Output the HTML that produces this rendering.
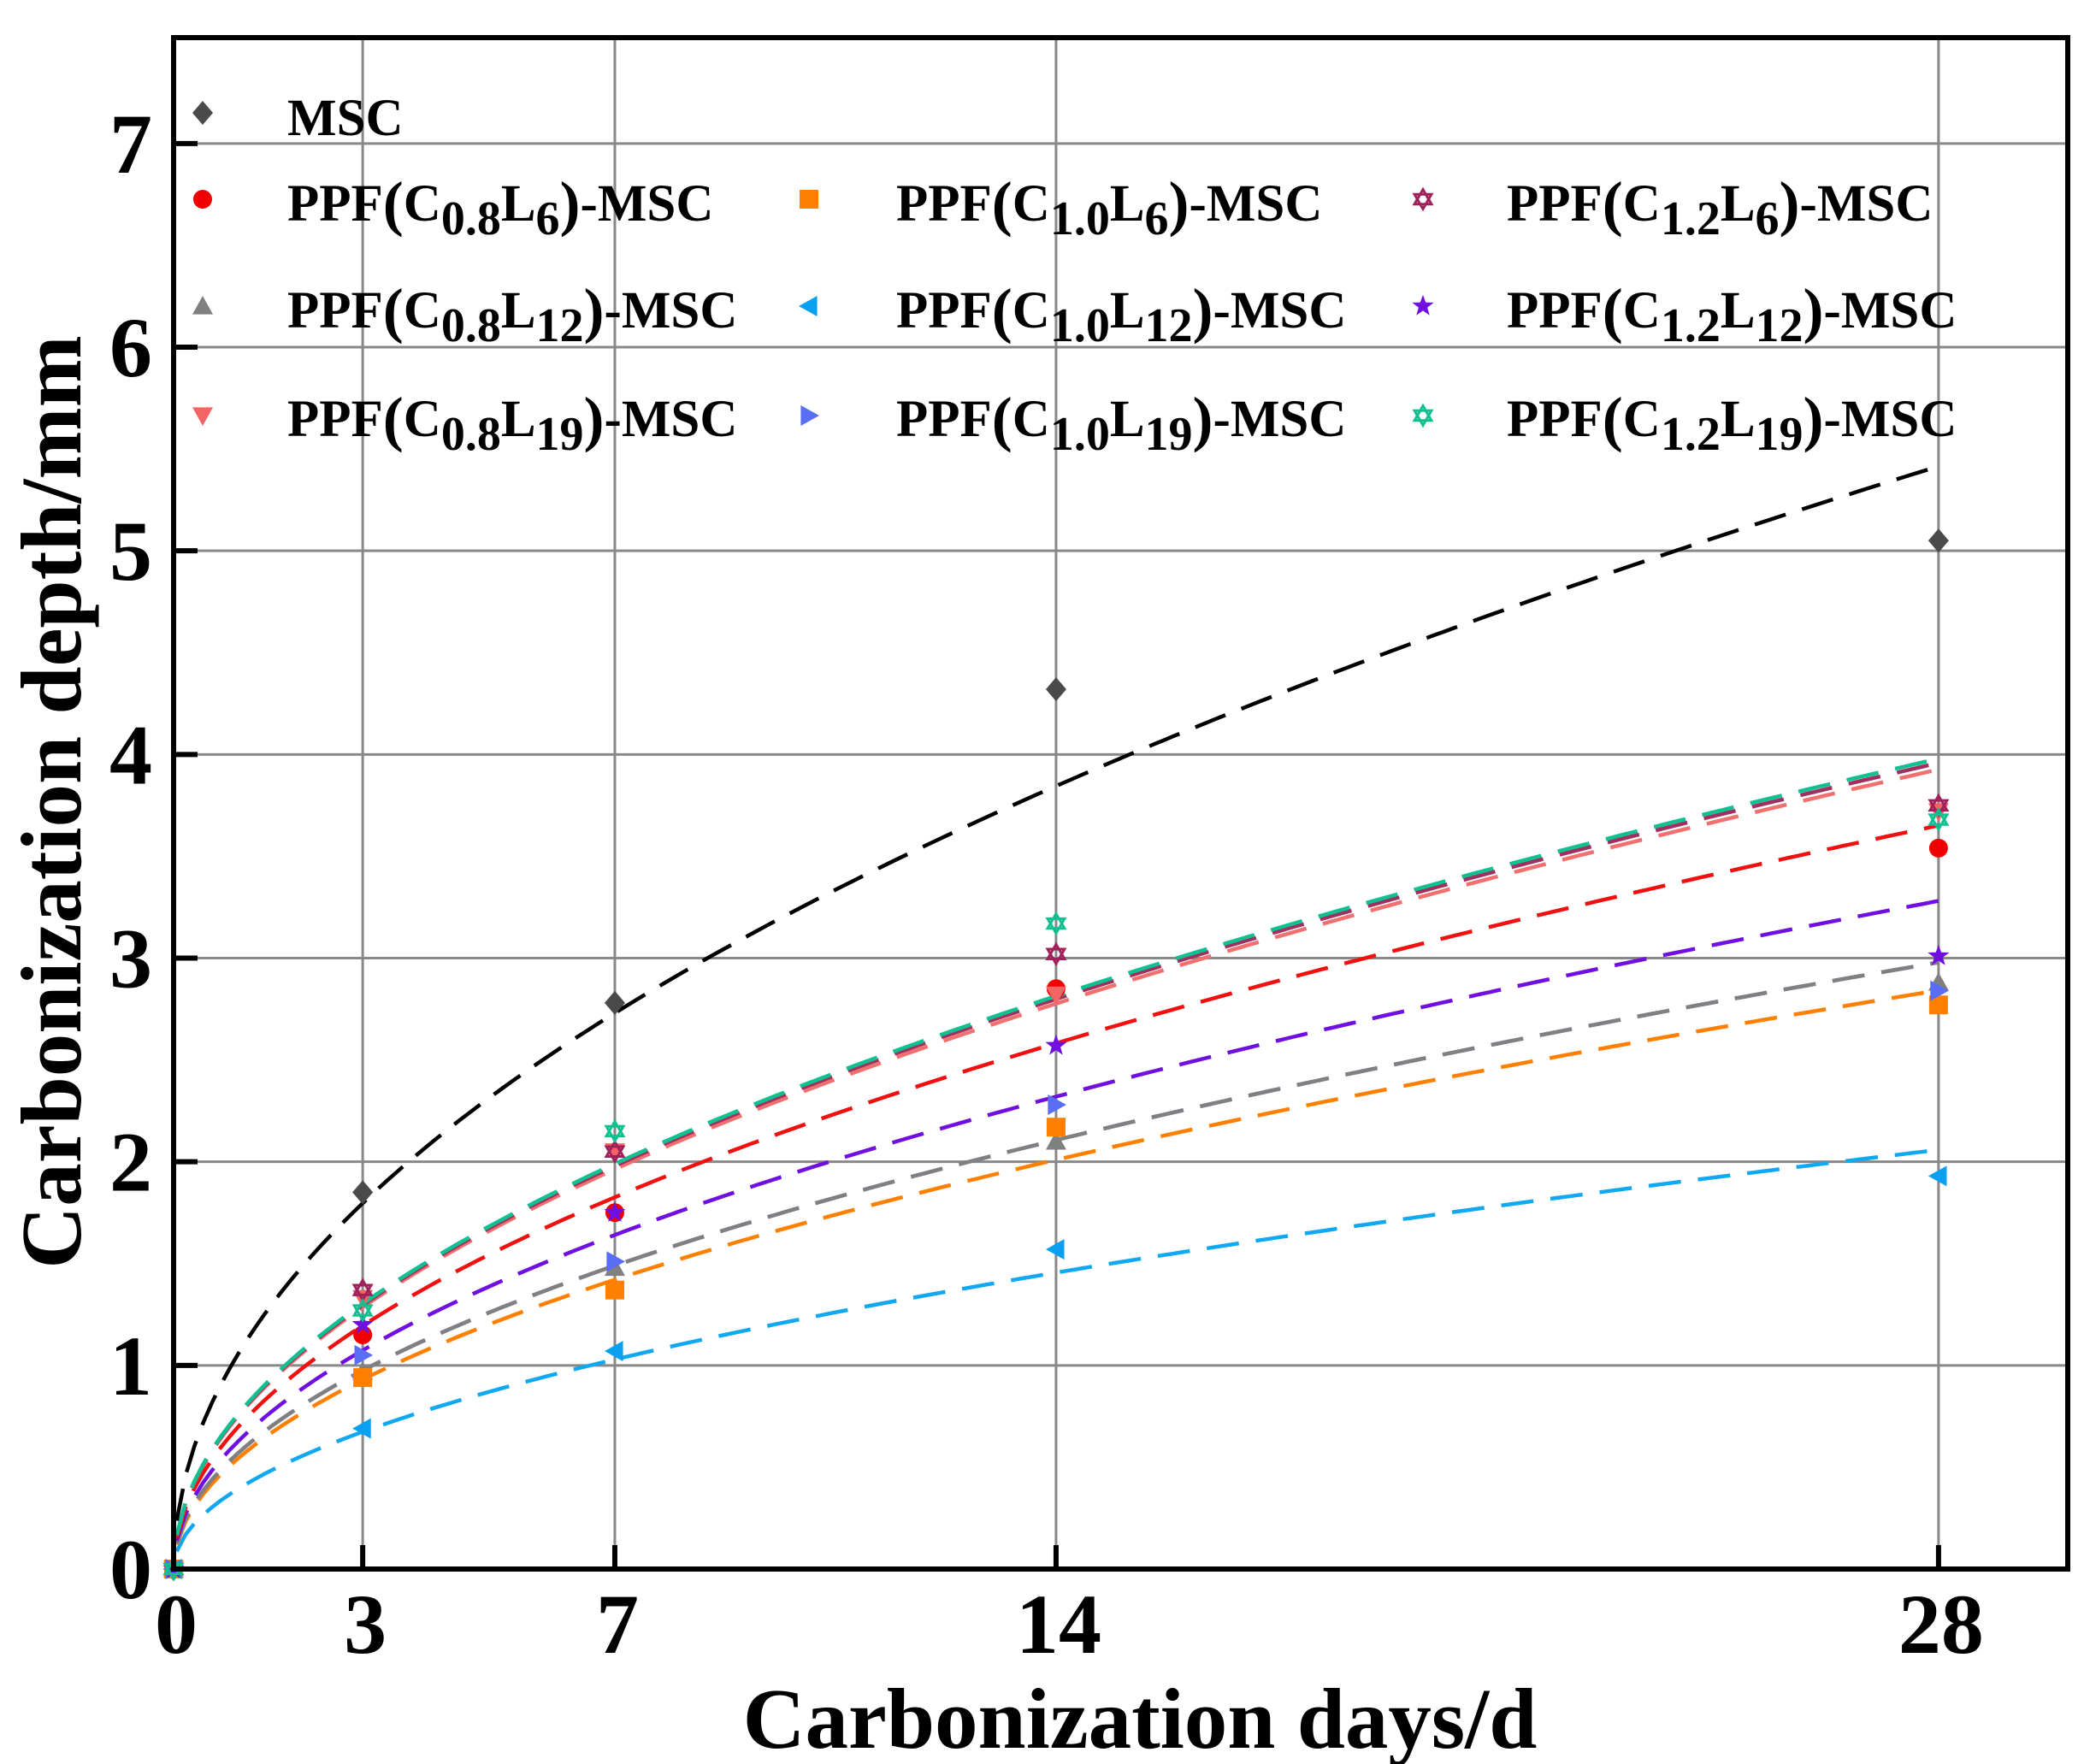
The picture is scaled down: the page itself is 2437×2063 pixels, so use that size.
<!DOCTYPE html>
<html><head><meta charset="utf-8"><style>
html,body{margin:0;padding:0;background:#fff;}
svg{display:block;font-family:"Liberation Serif",serif;font-weight:bold;}
</style></head><body>
<svg id="chart" width="2437" height="2063" viewBox="0 0 2437 2063" xmlns="http://www.w3.org/2000/svg"></svg>
<script>
const days = [0, 3, 7, 14, 28];
const xTicks = [0, 3, 7, 14, 28];
const yTicks = [0, 1, 2, 3, 4, 5, 6, 7];
const seriesNames = ["MSC","C0.8L6","C0.8L12","C0.8L19","C1.0L6","C1.0L12","C1.0L19","C1.2L6","C1.2L12","C1.2L19"];
const valsMSC     = [0, 1.85, 2.78, 4.32, 5.05];
const valsC08L6   = [0, 1.15, 1.75, 2.85, 3.54];
const valsC08L12  = [0, 0.97, 1.48, 2.10, 2.88];
const valsC08L19  = [0, 1.33, 2.05, 2.82, 3.72];
const valsC10L6   = [0, 0.94, 1.37, 2.17, 2.77];
const valsC10L12  = [0, 0.69, 1.07, 1.57, 1.93];
const valsC10L19  = [0, 1.05, 1.51, 2.28, 2.84];
const valsC12L6   = [0, 1.37, 2.05, 3.02, 3.75];
const valsC12L12  = [0, 1.20, 1.75, 2.57, 3.01];
const valsC12L19  = [0, 1.27, 2.15, 3.17, 3.68];
const fitA = [1.044, 0.69, 0.563, 0.742, 0.537, 0.389, 0.563, 0.748, 0.62, 0.752];
const fitB = [0.494, 0.5, 0.5, 0.5, 0.5, 0.5, 0.5, 0.5, 0.5, 0.5];

const allVals=[valsMSC,valsC08L6,valsC08L12,valsC08L19,valsC10L6,valsC10L12,valsC10L19,valsC12L6,valsC12L12,valsC12L19];
const colors=["#4a4a4a","#f00000","#808080","#f46464","#ff8000","#0aa0f0","#5a6ef5","#a0205a","#7010e0","#10c090"];
const lineColors=["#000","#f01010","#808080","#f07070","#ff8000","#10a8f0","#5a6ef5","#a03060","#7010e0","#10c090"];
const shapes=["diamond","circle","tri-up","tri-down","square","tri-left","tri-right","star6","star5","star6o"];
const L=203,R=2418,T=44,B=1835;
const X0=0,X1=30.05,Y0=0,Y1=7.52;
const sx=v=>L+(v-X0)/(X1-X0)*(R-L);
const sy=v=>B-(v-Y0)/(Y1-Y0)*(B-T);
const svg=document.getElementById('chart');
const NS="http://www.w3.org/2000/svg";
function mk(tag,attrs,parent){const e=document.createElementNS(NS,tag);for(const k in attrs)e.setAttribute(k,attrs[k]);(parent||svg).appendChild(e);return e;}

const grid=mk('g',{});


xTicks.forEach(t=>{if(t===0)return;const l=mk('line',{x1:sx(t),x2:sx(t),y1:T,y2:B,stroke:'#888','stroke-width':3},grid);

});
yTicks.forEach(t=>{if(t===0)return;const l=mk('line',{x1:L,x2:R,y1:sy(t),y2:sy(t),stroke:'#888','stroke-width':3},grid);

});

const fits=mk('g',{});


const order=[6,5,4,2,8,1,3,7,9,0];
order.forEach(i=>{const a=fitA[i];let d='';for(let k=0;k<=200;k++){const t=0.05+k*(28-0.05)/200;const v=a*Math.pow(t,fitB[i]);d+=(k?'L':'M')+sx(t).toFixed(1)+','+sy(v).toFixed(1);}
const p=mk('path',{d:d,fill:'none',stroke:lineColors[i],'stroke-width':4.5,'stroke-dasharray':'38,20'},fits);

});

function marker(shape,cx,cy,col,parent){const s=12;let e;
if(shape==='diamond')e=mk('path',{d:`M${cx},${cy-s-2}L${cx+s},${cy}L${cx},${cy+s+2}L${cx-s},${cy}Z`,fill:col},parent);
else if(shape==='circle')e=mk('circle',{cx,cy,r:s-1,fill:col},parent);
else if(shape==='square')e=mk('rect',{x:cx-s+1,y:cy-s+1,width:2*s-2,height:2*s-2,fill:col},parent);
else if(shape==='tri-up')e=mk('path',{d:`M${cx},${cy-s}L${cx+s},${cy+s*0.8}L${cx-s},${cy+s*0.8}Z`,fill:col},parent);
else if(shape==='tri-down')e=mk('path',{d:`M${cx},${cy+s}L${cx+s},${cy-s*0.8}L${cx-s},${cy-s*0.8}Z`,fill:col},parent);
else if(shape==='tri-left')e=mk('path',{d:`M${cx-s},${cy}L${cx+s*0.8},${cy-s}L${cx+s*0.8},${cy+s}Z`,fill:col},parent);
else if(shape==='tri-right')e=mk('path',{d:`M${cx+s},${cy}L${cx-s*0.8},${cy-s}L${cx-s*0.8},${cy+s}Z`,fill:col},parent);
else if(shape==='star5'){let d='';for(let k=0;k<10;k++){const r=k%2?s*0.45:s*1.1;const a=-Math.PI/2+k*Math.PI/5;d+=(k?'L':'M')+(cx+r*Math.cos(a)).toFixed(1)+','+(cy+r*Math.sin(a)).toFixed(1);}e=mk('path',{d:d+'Z',fill:col},parent);}
else {const h=s*0.95;e=mk('path',{d:`M${cx},${cy-h}L${cx+h*0.87},${cy+h*0.5}L${cx-h*0.87},${cy+h*0.5}ZM${cx},${cy+h}L${cx+h*0.87},${cy-h*0.5}L${cx-h*0.87},${cy-h*0.5}Z`,fill:'none',stroke:col,'stroke-width':3},parent);}
return e;}

const pts=mk('g',{});


allVals.forEach((vals,i)=>{vals.forEach((v,j)=>{const m=marker(shapes[i],sx(days[j]),sy(v),colors[i],pts);

});});

const fr=mk('rect',{x:L,y:T,width:R-L,height:B-T,fill:'none',stroke:'#000','stroke-width':6});


xTicks.forEach(t=>{const l=mk('line',{x1:sx(t),x2:sx(t),y1:B,y2:B-28,stroke:'#000','stroke-width':6});


const tx=mk('text',{x:sx(t)+3,y:1933,'text-anchor':'middle','font-size':100});tx.textContent=t;

});
yTicks.forEach(t=>{const l=mk('line',{x1:L,x2:L+28,y1:sy(t),y2:sy(t),stroke:'#000','stroke-width':6});


const tx=mk('text',{x:178,y:sy(t)+34,'text-anchor':'end','font-size':100});tx.textContent=t;

});
</script>
<svg style="position:absolute;left:0;top:0" width="2437" height="2063" font-family="Liberation Serif, serif" font-weight="bold">
<text x="1333" y="2044" text-anchor="middle" font-size="101">Carbonization days/d</text>
<text transform="translate(94,938) rotate(-90)" text-anchor="middle" font-size="101">Carbonization depth/mm</text>
<g font-size="61">
<text x="336" y="158">MSC</text>
<text x="336" y="258">PPF<tspan font-size="72" dy="4">(</tspan><tspan dy="-4">C</tspan><tspan dy="16" font-size="56">0.8</tspan><tspan dy="-16">L</tspan><tspan dy="16" font-size="56">6</tspan><tspan dy="-12" font-size="72">)</tspan><tspan dy="-4">-MSC</tspan></text>
<text x="336" y="383">PPF<tspan font-size="72" dy="4">(</tspan><tspan dy="-4">C</tspan><tspan dy="16" font-size="56">0.8</tspan><tspan dy="-16">L</tspan><tspan dy="16" font-size="56">12</tspan><tspan dy="-12" font-size="72">)</tspan><tspan dy="-4">-MSC</tspan></text>
<text x="336" y="510">PPF<tspan font-size="72" dy="4">(</tspan><tspan dy="-4">C</tspan><tspan dy="16" font-size="56">0.8</tspan><tspan dy="-16">L</tspan><tspan dy="16" font-size="56">19</tspan><tspan dy="-12" font-size="72">)</tspan><tspan dy="-4">-MSC</tspan></text>
<text x="1048" y="258">PPF<tspan font-size="72" dy="4">(</tspan><tspan dy="-4">C</tspan><tspan dy="16" font-size="56">1.0</tspan><tspan dy="-16">L</tspan><tspan dy="16" font-size="56">6</tspan><tspan dy="-12" font-size="72">)</tspan><tspan dy="-4">-MSC</tspan></text>
<text x="1048" y="383">PPF<tspan font-size="72" dy="4">(</tspan><tspan dy="-4">C</tspan><tspan dy="16" font-size="56">1.0</tspan><tspan dy="-16">L</tspan><tspan dy="16" font-size="56">12</tspan><tspan dy="-12" font-size="72">)</tspan><tspan dy="-4">-MSC</tspan></text>
<text x="1048" y="510">PPF<tspan font-size="72" dy="4">(</tspan><tspan dy="-4">C</tspan><tspan dy="16" font-size="56">1.0</tspan><tspan dy="-16">L</tspan><tspan dy="16" font-size="56">19</tspan><tspan dy="-12" font-size="72">)</tspan><tspan dy="-4">-MSC</tspan></text>
<text x="1762" y="258">PPF<tspan font-size="72" dy="4">(</tspan><tspan dy="-4">C</tspan><tspan dy="16" font-size="56">1.2</tspan><tspan dy="-16">L</tspan><tspan dy="16" font-size="56">6</tspan><tspan dy="-12" font-size="72">)</tspan><tspan dy="-4">-MSC</tspan></text>
<text x="1762" y="383">PPF<tspan font-size="72" dy="4">(</tspan><tspan dy="-4">C</tspan><tspan dy="16" font-size="56">1.2</tspan><tspan dy="-16">L</tspan><tspan dy="16" font-size="56">12</tspan><tspan dy="-12" font-size="72">)</tspan><tspan dy="-4">-MSC</tspan></text>
<text x="1762" y="510">PPF<tspan font-size="72" dy="4">(</tspan><tspan dy="-4">C</tspan><tspan dy="16" font-size="56">1.2</tspan><tspan dy="-16">L</tspan><tspan dy="16" font-size="56">19</tspan><tspan dy="-12" font-size="72">)</tspan><tspan dy="-4">-MSC</tspan></text>
</g>
<g id="legmarks"></g>
</svg>
<script>
const lg=document.getElementById('legmarks');
const legX=[237,237,237,237,946,946,946,1664,1664,1664];
const legY=[132,233,358,486,233,358,486,233,358,486];
shapes.forEach((s,i)=>{const m=marker(s,legX[i],legY[i],colors[i],lg);

});
</script>
</body></html>
